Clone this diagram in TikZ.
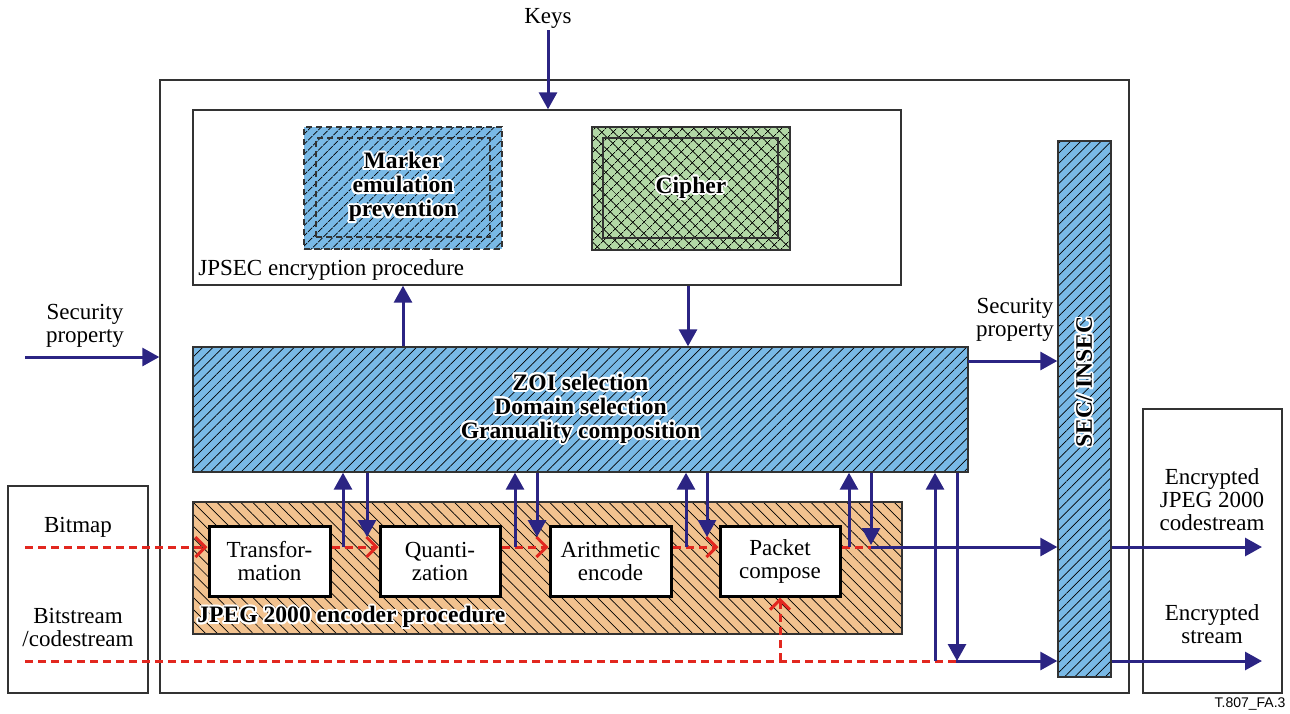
\documentclass[tikz,border=0pt]{standalone}
\usepackage{fontspec}
\setmainfont{Liberation Serif}
\newfontfamily\tagfont{Liberation Sans}
\usepackage{contour}
\contourlength{0.9pt}
\usetikzlibrary{positioning, calc, arrows.meta, fit, patterns.meta}
\definecolor{Navy}{HTML}{2B2483}
\definecolor{Flow}{HTML}{E2271F}
\definecolor{Sky}{HTML}{79B9E6}
\definecolor{Leaf}{HTML}{B2D8A6}
\definecolor{Sand}{HTML}{F2C28F}
\definecolor{Edge}{HTML}{333333}
\newcommand{\hl}[1]{\contour{white}{#1}}
\tikzset{
    frame/.style={draw=Edge, line width=0.7pt, inner sep=0pt},
    skybox/.style={frame, preaction={fill=Sky}, pattern={Lines[angle=45,distance=3.6pt,line width=0.35pt]}, pattern color=black},
    leafbox/.style={frame, preaction={fill=Leaf}, pattern={Hatch[angle=45,distance=4pt,line width=0.35pt]}, pattern color=black},
    sandbox/.style={frame, preaction={fill=Sand}, pattern={Lines[angle=-45,distance=4.2pt,line width=0.35pt]}, pattern color=black},
    procbox/.style={draw=black, line width=1.5pt, fill=white, inner sep=0pt, align=center, font=\fontsize{11.5}{11.5}\selectfont},
    txt/.style={align=center, inner sep=1pt, font=\fontsize{11.5}{11.5}\selectfont},
    boldtxt/.style={align=center, inner sep=1pt, font=\fontsize{11.8}{12}\selectfont\bfseries},
    navy/.style={draw=Navy, line width=1.5pt, -{Triangle[length=8.5pt,width=9pt]}},
    flow/.style={draw=Flow, line width=1.5pt, dash pattern=on 4pt off 2.5pt, -{Straight Barb[length=5pt,width=10pt,line width=1.5pt]}},
}
\begin{document}
\begin{tikzpicture}[x=0.5pt, y=-0.5pt]
    \useasboundingbox (0,0) rectangle (1290,713);

    % Rahmen
    \node[frame, fit={(160,80) (1129,693)}] (main) {};
    \node[frame, fit={(8,486) (148,693)}] (src) {};
    \node[frame, fit={(1143,409) (1282,693)}] (dst) {};

    % JPSEC
    \node[frame, fit={(193,110) (901,285)}] (jpsec) {};
    \node[txt, anchor=south west] (jpseclbl) at (196,283) {JPSEC encryption procedure};
    \node[skybox, dash pattern=on 3pt off 2pt, fit={(304,127) (502,249)}] (marker) {};
    \node[frame, dash pattern=on 3pt off 2pt, fit={(316,138) (490,237)}] (markerin) {};
    \node[boldtxt] (markerlbl) at (marker.center) {\hl{Marker}\\\hl{emulation}\\\hl{prevention}};
    \node[leafbox, fit={(592,127) (790,250)}] (cipher) {};
    \node[frame, line width=1pt, fit={(603,138) (778,238)}] (cipherin) {};
    \node[boldtxt] (cipherlbl) at (cipher.center) {\hl{Cipher}};

    % ZOI + SEC/INSEC
    \node[skybox, fit={(193,347) (968,472)}] (zoi) {};
    \node[boldtxt] (zoilbl) at (zoi.center) {\hl{ZOI selection}\\\hl{Domain selection}\\\hl{Granuality composition}};
    \node[skybox, fit={(1058,141) (1111,677)}] (sec) {};
    \node[boldtxt, rotate=90] (seclbl) at (1085,382) {\hl{SEC/ INSEC}};

    % JPEG 2000 encoder
    \node[sandbox, fit={(193,502) (902,634)}] (enc) {};
    \node[boldtxt, anchor=south west] (enclbl) at (195,632) {\hl{JPEG 2000 encoder procedure}};
    \node[procbox, fit={(209,526) (330,596)}] (trans) {};
    \node[procbox, fit={(380,526) (500,596)}] (quant) {};
    \node[procbox, fit={(550,526) (671,596)}] (arith) {};
    \node[procbox, fit={(720,526) (840,596)}] (pack) {};
    \node[txt] (translbl) at (trans.center) {Transfor-\\mation};
    \node[txt] (quantlbl) at (quant.center) {Quanti-\\zation};
    \node[txt] (arithlbl) at (arith.center) {Arithmetic\\encode};
    \node[txt] (packlbl) at (pack.center) {Packet\\compose};

    % Texte aussen
    \node[txt] (keys) at (548,18) {Keys};
    \node[txt] (spin) at (85,326) {Security\\property};
    \node[txt] (spout) at (1015,320) {Security\\property};
    \node[txt] (bitmap) at (78,527) {Bitmap};
    \node[txt] (bitstream) at (78,627) {Bitstream\\/codestream};
    \node[txt] (enccs) at (1212,500) {Encrypted\\JPEG 2000\\codestream};
    \node[txt] (encst) at (1212,624) {Encrypted\\stream};
    \node[font=\tagfont\fontsize{7}{7}\selectfont, inner sep=0pt] (tag) at (1250,704) {T.807\_FA.3};

    % Schluessel und Sicherheitseigenschaft
    \draw[navy] (keys.south) -- (keys.south |- jpsec.north);
    \coordinate (spa) at (25,357);
    \draw[navy] (spa) -- (spa -| main.west);
    \coordinate (spb) at (968,361);
    \draw[navy] (spb) -- (spb -| sec.west);
    \coordinate (j1) at (403,300);
    \coordinate (j2) at (688,300);
    \draw[navy] (zoi.north -| j1) -- (jpsec.south -| j1);
    \draw[navy] (jpsec.south -| j2) -- (zoi.north -| j2);

    % Bitmap-Fluss
    \coordinate (bmp) at (25,547);
    \coordinate (jn) at (871,547);
    \draw[flow] (bmp) -- (bmp -| trans.west);
    \draw[flow] (trans.east |- bmp) -- (quant.west |- bmp);
    \draw[flow] (quant.east |- bmp) -- (arith.west |- bmp);
    \draw[flow] (arith.east |- bmp) -- (pack.west |- bmp);
    \draw[flow, -] (pack.east |- bmp) -- (jn);
    \draw[navy] (jn) -- (jn -| sec.west);
    \foreach \u/\d/\e in {343/367/537, 515/537/537, 686/707/537, 849/871/545}{
        \coordinate (tap) at (\u,547);
        \coordinate (drop) at (\d,\e);
        \draw[navy] (tap) -- (tap |- zoi.south);
        \draw[navy] (drop |- zoi.south) -- (drop);
    }

    % Bitstream-Fluss
    \coordinate (bst) at (25,661);
    \coordinate (tail) at (957,661);
    \coordinate (rise) at (935,661);
    \draw[flow, -] (bst) -- (tail);
    \draw[flow] (pack.south |- bst) -- (pack.south);
    \draw[navy] (rise) -- (rise |- zoi.south);
    \draw[navy] (tail |- zoi.south) -- (tail);
    \draw[navy, shorten <=-0.75pt] (tail) -- (tail -| sec.west);

    % Ausgaenge
    \coordinate (o1) at (1262,547);
    \coordinate (o2) at (1262,661);
    \draw[navy] (o1 -| sec.east) -- (o1);
    \draw[navy] (o2 -| sec.east) -- (o2);
\end{tikzpicture}
\end{document}
